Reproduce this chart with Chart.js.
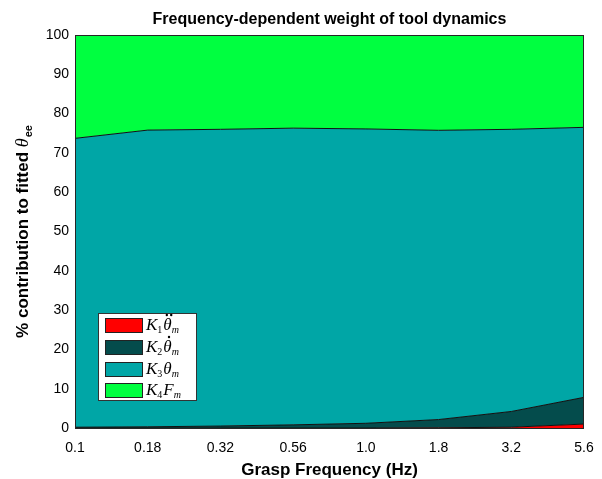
<!DOCTYPE html>
<html>
<head>
<meta charset="utf-8">
<script src="https://cdn.jsdelivr.net/npm/chart.js@4"></script>
<style>
  html, body { margin: 0; padding: 0; background: #fff; }
  #wrap { width: 602px; height: 479px; }
</style>
</head>
<body>
<div id="wrap"><canvas id="c" width="602" height="479"></canvas></div>
<script>
// grasp frequencies (Hz), evenly spaced on a log axis
const freqs = ['0.1', '0.18', '0.32', '0.56', '1.0', '1.8', '3.2', '5.6'];

// % contribution of each term (stacked)
const k1Acc = [0, 0, 0, 0, 0, 0.05, 0.2, 1.0];
const k2Vel = [0.2, 0.3, 0.5, 0.8, 1.2, 2.1, 4.0, 6.8];
const k3Pos = [73.5, 75.5, 75.5, 75.5, 74.9, 73.6, 71.8, 68.7];
const k4Force = [26.3, 24.2, 24.0, 23.7, 23.9, 24.25, 24.0, 23.5];

const yTicks = [0, 10, 20, 30, 40, 50, 60, 70, 80, 90, 100];

// legend math: K_n, symbol (with derivative dots), subscript m
const legendMath = [
    { k: '1', sym: '\u03B8', dots: 2 },
    { k: '2', sym: '\u03B8', dots: 1 },
    { k: '3', sym: '\u03B8', dots: 0 },
    { k: '4', sym: 'F', dots: 0 }
];

const sans = 'Liberation Sans, Arial, Helvetica, sans-serif';
const serif = '"Liberation Serif", "Times New Roman", serif';

function drawMath(ctx, m, x, y) {
    ctx.textAlign = 'left';
    ctx.textBaseline = 'alphabetic';
    ctx.font = 'italic 17px ' + serif;
    ctx.fillText('K', x, y);
    x += ctx.measureText('K').width;
    ctx.font = '10px ' + serif;
    ctx.fillText(m.k, x, y + 3);
    x += ctx.measureText(m.k).width + 1;
    ctx.font = 'italic 17px ' + serif;
    const w = ctx.measureText(m.sym).width;
    ctx.fillText(m.sym, x, y);
    const cx = x + w / 2 + 1.5;
    if (m.dots === 1) {
        ctx.beginPath(); ctx.arc(cx, y - 15, 1.2, 0, Math.PI * 2); ctx.fill();
    } else if (m.dots === 2) {
        ctx.beginPath(); ctx.arc(cx - 2.2, y - 15, 1.2, 0, Math.PI * 2); ctx.fill();
        ctx.beginPath(); ctx.arc(cx + 2.2, y - 15, 1.2, 0, Math.PI * 2); ctx.fill();
    }
    x += w;
    ctx.font = 'italic 10px ' + serif;
    ctx.fillText('m', x, y + 3);
}

// title centred over the plot box, frame, axis titles and boxed legend
const decor = {
    id: 'decor',
    afterDraw(chart) {
        const ctx = chart.ctx;
        const a = chart.chartArea;
        ctx.save();
        ctx.strokeStyle = '#262626';
        ctx.lineWidth = 1;
        ctx.strokeRect(a.left + 0.5, a.top + 0.5, a.right - a.left - 1, a.bottom - a.top);

        ctx.fillStyle = '#000';
        ctx.font = 'bold 16px ' + sans;
        ctx.textAlign = 'center';
        ctx.textBaseline = 'middle';
        ctx.fillText('Frequency-dependent weight of tool dynamics', (a.left + a.right) / 2, 20);

        ctx.font = 'bold 17px ' + sans;
        ctx.fillText('Grasp Frequency (Hz)', (a.left + a.right) / 2, 470);

        // y axis title with italic theta and subscript
        ctx.save();
        ctx.translate(28, (a.top + a.bottom) / 2);
        ctx.rotate(-Math.PI / 2);
        ctx.textBaseline = 'alphabetic';
        ctx.textAlign = 'left';
        const t1 = '% contribution to fitted ';
        ctx.font = 'bold 17px ' + sans;
        const w1 = ctx.measureText(t1).width;
        ctx.font = 'italic 18px ' + serif;
        const w2 = ctx.measureText('\u03B8').width;
        ctx.font = 'bold 11px ' + sans;
        const w3 = ctx.measureText('ee').width;
        let x = -(w1 + w2 + w3 + 1) / 2;
        ctx.font = 'bold 17px ' + sans;
        ctx.fillText(t1, x, 0);
        x += w1;
        ctx.font = 'italic 18px ' + serif;
        ctx.fillText('\u03B8', x, 0);
        x += w2 + 1;
        ctx.font = 'bold 11px ' + sans;
        ctx.fillText('ee', x, 4);
        ctx.restore();

        // legend
        const bx = 98, by = 313, bw = 98, bh = 87;
        ctx.fillStyle = '#fff';
        ctx.fillRect(bx, by, bw, bh);
        ctx.strokeStyle = '#333';
        ctx.strokeRect(bx + 0.5, by + 0.5, bw, bh);
        const rows = [325, 347, 369, 390];
        chart.data.datasets.forEach((ds, i) => {
            const cy = rows[i];
            ctx.fillStyle = ds.backgroundColor;
            ctx.fillRect(105, cy - 7, 38, 15);
            ctx.strokeStyle = '#222';
            ctx.lineWidth = 1;
            ctx.strokeRect(105.5, cy - 6.5, 37, 14);
            ctx.fillStyle = '#000';
            drawMath(ctx, legendMath[i], 146, cy + 5);
        });
        ctx.restore();
    }
};

function series(label, data, color, fill) {
    return {
        label: label,
        data: data,
        backgroundColor: color,
        borderColor: '#111',
        borderWidth: 1,
        fill: fill,
        pointRadius: 0,
        tension: 0
    };
}

new Chart(document.getElementById('c').getContext('2d'), {
    type: 'line',
    data: {
        labels: freqs,
        datasets: [
            series('K1 acc', k1Acc, '#ff0000', 'origin'),
            series('K2 vel', k2Vel, '#044c4c', '-1'),
            series('K3 pos', k3Pos, '#00a6a6', '-1'),
            series('K4 force', k4Force, '#00ff40', '-1')
        ]
    },
    options: {
        responsive: false,
        animation: false,
        layout: { autoPadding: false, padding: { top: 35, right: 18, left: 0, bottom: 0 } },
        plugins: {
            legend: { display: false },
            tooltip: { enabled: false }
        },
        scales: {
            x: {
                type: 'category',
                offset: false,
                grid: { display: false, drawTicks: false },
                border: { display: false },
                ticks: { color: '#000', font: { family: sans, size: 14 }, padding: 12, maxRotation: 0, autoSkip: false },
                afterFit(s) { s.height = 51; s.paddingLeft = 0; s.paddingRight = 0; }
            },
            y: {
                stacked: true,
                min: 0,
                max: 100,
                afterBuildTicks(s) { s.ticks = yTicks.map(v => ({ value: v })); },
                grid: { display: false, drawTicks: false },
                border: { display: false },
                ticks: { color: '#000', font: { family: sans, size: 14 }, padding: 6 },
                afterFit(s) { s.width = 75; s.paddingTop = 0; s.paddingBottom = 0; }
            }
        }
    },
    plugins: [decor]
});
</script>
</body>
</html>
